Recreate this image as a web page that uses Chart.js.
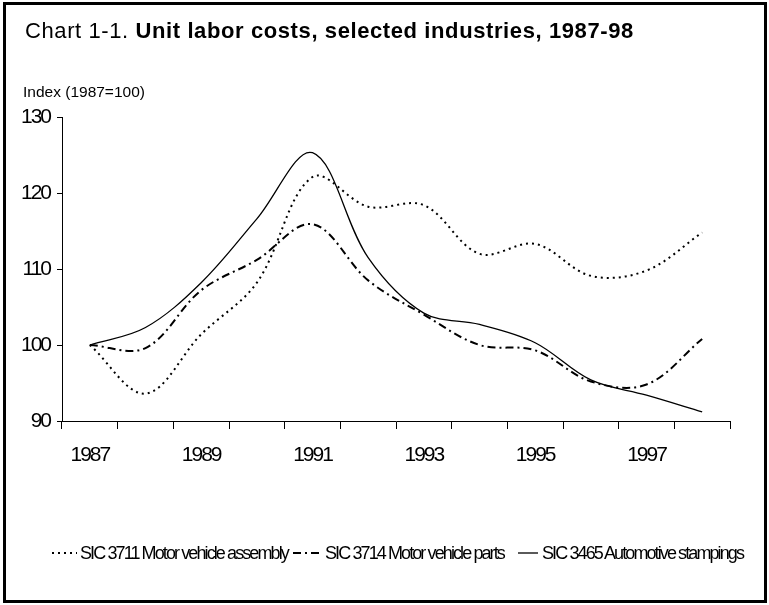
<!DOCTYPE html>
<html>
<head>
<meta charset="utf-8">
<script src="https://cdn.jsdelivr.net/npm/chart.js@4.4.1/dist/chart.umd.min.js"></script>
<style>
  html, body { margin: 0; padding: 0; background: #fff; }
  #wrap { position: relative; width: 769px; height: 605px; overflow: hidden; font-family: "Liberation Sans", Arial, sans-serif; color: #000; }
  #frame { position: absolute; left: 3px; top: 2px; width: 764px; height: 601px; box-sizing: border-box; border: 3px solid #000; }
  #chart { position: absolute; left: 0; top: 0; }
  .txt { position: absolute; white-space: nowrap; line-height: 1; }
  #title { left: 25px; top: 20px; font-size: 22px; letter-spacing: 0.6px; }
  #ylab { left: 23px; top: 84px; font-size: 15.5px; }
  .leg { position: absolute; top: 544px; font-size: 18px; letter-spacing: -1.9px; line-height: 1; white-space: nowrap; }
  .sample { position: absolute; top: 545px; }
</style>
</head>
<body>
<div id="wrap">
  <canvas id="chart" width="769" height="605"></canvas>
  <div id="frame"></div>
  <div id="title" class="txt">Chart 1-1. <b>Unit labor costs, selected industries, 1987-98</b></div>
  <div id="ylab" class="txt">Index (1987=100)</div>
  <div id="legend"></div>
</div>
<script>
// data
var years = ['1987','1988','1989','1990','1991','1992','1993','1994','1995','1996','1997','1998'];
var sic3711 = [100, 93.6, 101.4, 108.2, 122.1, 118.2, 118.4, 112.0, 113.3, 109.1, 109.8, 114.8];
var sic3714 = [100, 99.6, 107.2, 111.2, 115.9, 108.5, 104.0, 100.0, 99.3, 95.2, 94.8, 100.8];
var sic3465 = [100, 102.3, 108.2, 116.6, 125.3, 111.5, 104.2, 102.7, 100.3, 95.4, 93.4, 91.2];
var seriesNames = ['SIC 3711 Motor vehicle assembly', 'SIC 3714 Motor vehicle parts', 'SIC 3465 Automotive stampings'];
var yTicks = [90, 100, 110, 120, 130];

var fontFam = '"Liberation Sans", Arial, sans-serif';

// squeeze tick text like the original
var narrowText = {
  id: 'narrowText',
  beforeDraw: function(chart) { chart.ctx.letterSpacing = '-2px'; }
};

var ctx = document.getElementById('chart').getContext('2d');
var chart = new Chart(ctx, {
  type: 'line',
  data: {
    labels: years,
    datasets: [
      { label: seriesNames[0], data: sic3711, borderColor: '#000', borderWidth: 2, borderDash: [2, 4] },
      { label: seriesNames[1], data: sic3714, borderColor: '#000', borderWidth: 2, borderDash: [8, 4, 2, 4] },
      { label: seriesNames[2], data: sic3465, borderColor: '#000', borderWidth: 1.3 }
    ]
  },
  options: {
    responsive: false,
    animation: false,
    layout: { padding: { left: 0, top: 117, right: 39, bottom: 124 } },
    elements: { point: { radius: 0 }, line: { tension: 0.35, fill: false } },
    plugins: { legend: { display: false }, tooltip: { enabled: false } },
    scales: {
      x: {
        offset: true,
        grid: { offset: true, drawOnChartArea: false, drawTicks: true, tickLength: 8, color: '#000', lineWidth: 1 },
        border: { color: '#000', width: 1 },
        ticks: {
          autoSkip: false, maxRotation: 0, color: '#000', padding: 14,
          font: { family: fontFam, size: 21 },
          callback: function(v, i) { return i % 2 === 0 ? years[i] : ''; }
        },
        afterFit: function(s) { s.height = 60; }
      },
      y: {
        min: 90, max: 130,
        afterBuildTicks: function(s) { s.ticks = yTicks.map(function(v) { return { value: v }; }); },
        grid: { drawOnChartArea: false, drawTicks: true, tickLength: 5, color: '#000', lineWidth: 1 },
        border: { color: '#000', width: 1 },
        ticks: { color: '#000', padding: 7, font: { family: fontFam, size: 21 } },
        afterFit: function(s) { s.width = 62; }
      }
    }
  },
  plugins: [narrowText]
});

// legend, drawn as html text with little line samples
var legendItems = [
  { x: 52, w: 25, dash: '2 4', width: 2, tx: 80 },
  { x: 293, w: 27, dash: '8 4 2 4', width: 2, tx: 325 },
  { x: 518, w: 20, dash: '', width: 1.3, tx: 542 }
];
var legendHtml = '';
legendItems.forEach(function(it, i) {
  legendHtml += '<svg class="sample" style="left:' + it.x + 'px" width="' + it.w + '" height="16">' +
    '<line x1="0" y1="8" x2="' + it.w + '" y2="8" stroke="#000" stroke-width="' + it.width + '"' +
    (it.dash ? ' stroke-dasharray="' + it.dash + '"' : '') + '/></svg>';
  legendHtml += '<div class="leg" style="left:' + it.tx + 'px">' + seriesNames[i] + '</div>';
});
document.getElementById('legend').innerHTML = legendHtml;
</script>
</body>
</html>
